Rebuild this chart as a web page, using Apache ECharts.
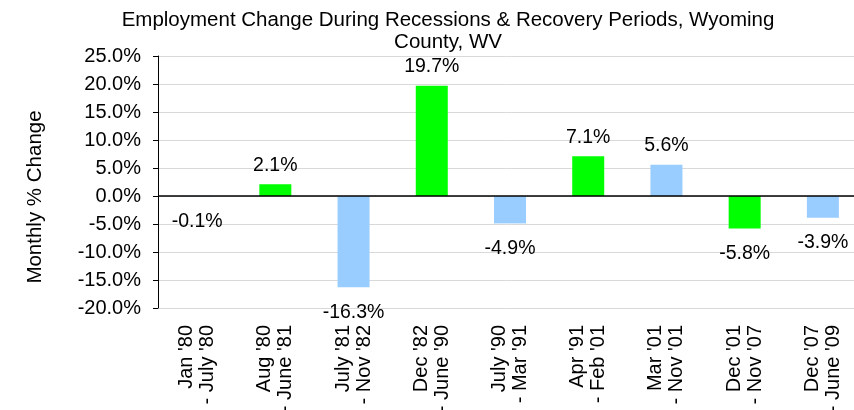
<!DOCTYPE html>
<html>
<head>
<meta charset="utf-8">
<script src="https://cdn.jsdelivr.net/npm/echarts@6/dist/echarts.min.js"></script>
<style>
  html, body { margin: 0; padding: 0; background: #fff; }
  #chart { width: 854px; height: 410px; }
</style>
</head>
<body>
<div id="chart"></div>
<script>
// periods, alternating recession / recovery
var periods = ["Jan '80\n- July '80", "Aug '80\n- June '81", "July '81\n- Nov '82", "Dec '82\n- June '90",
  "July '90\n- Mar '91", "Apr '91\n- Feb '01", "Mar '01\n- Nov '01", "Dec '01\n- Nov '07", "Dec '07\n- June '09"];
var changes = [-0.1, 2.1, -16.3, 19.7, -4.9, 7.1, 5.6, -5.8, -3.9];
var barColors = ['#99ccff', '#00ff00', '#99ccff', '#00ff00', '#99ccff', '#00ff00', '#99ccff', '#00ff00', '#99ccff'];

var font = 'Liberation Sans, Arial, sans-serif';
var chart = echarts.init(document.getElementById('chart'));

chart.setOption({
  animation: false,
  title: {
    text: 'Employment Change During Recessions & Recovery Periods, Wyoming\nCounty, WV',
    left: 443,
    top: 4,
    textAlign: 'center',
    textStyle: { fontFamily: font, fontSize: 20.5, fontWeight: 'normal', color: '#000', lineHeight: 22 }
  },
  // y axis name drawn by hand so it sits where the original puts it
  graphic: [{
    type: 'text',
    x: 35,
    y: 197,
    rotation: Math.PI / 2,
    style: {
      text: 'Monthly % Change',
      font: '20.5px ' + font,
      fill: '#000',
      align: 'center',
      verticalAlign: 'middle'
    }
  }],
  grid: { left: 158, width: 704, top: 56, bottom: 102, outerBoundsMode: 'none' },
  xAxis: {
    type: 'category',
    data: periods,
    axisLine: { show: false },
    axisTick: { show: false },
    axisLabel: {
      rotate: 90,
      interval: 0,
      margin: 17,
      fontFamily: font,
      fontSize: 20,
      lineHeight: 21,
      color: '#000'
    }
  },
  yAxis: {
    type: 'value',
    min: -20,
    max: 25,
    interval: 5,
    axisLine: { show: true, lineStyle: { color: '#000', width: 1 } },
    axisTick: { show: true, length: 5, lineStyle: { color: '#000' } },
    axisLabel: {
      fontFamily: font,
      fontSize: 20,
      color: '#000',
      margin: 17,
      formatter: function (v) { return v.toFixed(1) + '%'; }
    },
    splitLine: { lineStyle: { color: '#d9d9d9', width: 1 } }
  },
  series: [{
    type: 'bar',
    barWidth: 32,
    data: changes.map(function (v, i) {
      return {
        value: v,
        itemStyle: { color: barColors[i] },
        label: v < 0 ? { position: 'bottom', distance: 15 } : { position: 'top', distance: 9 }
      };
    }),
    label: {
      show: true,
      fontFamily: font,
      fontSize: 19.5,
      color: '#000',
      formatter: function (p) { return p.value.toFixed(1) + '%'; }
    },
    markLine: {
      silent: true,
      symbol: 'none',
      label: { show: false },
      lineStyle: { color: '#000', type: 'solid', width: 1.5 },
      data: [{ yAxis: 0 }]
    }
  }]
});
</script>
</body>
</html>
